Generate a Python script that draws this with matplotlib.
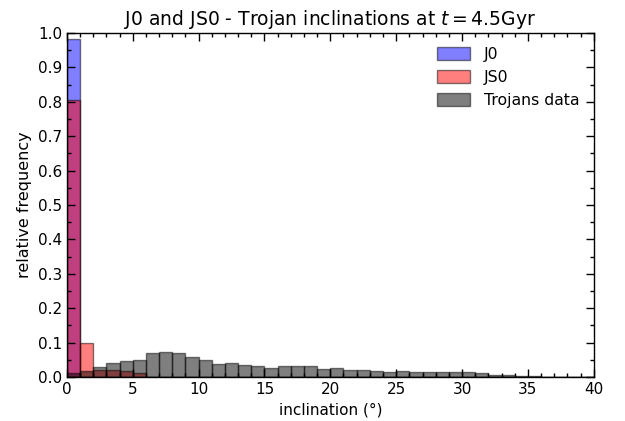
import numpy as np
import matplotlib
matplotlib.use("Agg")
import matplotlib.pyplot as plt
from matplotlib.ticker import MultipleLocator

bin_edges = list(range(0, 41))
j0 = [0.983] + [0.0] * 39
js0 = [0.805, 0.100, 0.020, 0.020, 0.017, 0.011] + [0.0] * 34
trojans = [0.012, 0.017, 0.030, 0.041, 0.047, 0.049, 0.070, 0.074, 0.069, 0.057,
           0.049, 0.039, 0.041, 0.036, 0.031, 0.027, 0.031, 0.031, 0.032, 0.023,
           0.026, 0.021, 0.019, 0.017, 0.015, 0.017, 0.016, 0.016, 0.016, 0.015,
           0.014, 0.011, 0.006, 0.005, 0.002, 0.002, 0.001, 0.001, 0.001, 0.0005]

centers = [(a + b) / 2 for a, b in zip(bin_edges[:-1], bin_edges[1:])]

fig = plt.figure(figsize=(6.25, 4.21), dpi=100)
ax = fig.add_axes([0.107, 0.1045, 0.843, 0.817])

ax.hist(centers, bins=bin_edges, weights=j0, color='b', alpha=0.5, edgecolor='k', linewidth=1.0, label='J0')
ax.hist(centers, bins=bin_edges, weights=js0, color='r', alpha=0.5, edgecolor='k', linewidth=1.0, label='JS0')
ax.hist(centers, bins=bin_edges, weights=trojans, color='k', alpha=0.5, edgecolor='k', linewidth=1.0, label='Trojans data')

ax.set_xlim(0, 40)
ax.set_ylim(0, 1.0)
ax.xaxis.set_major_locator(MultipleLocator(5))
ax.xaxis.set_minor_locator(MultipleLocator(1))
ax.yaxis.set_major_locator(MultipleLocator(0.1))
ax.yaxis.set_minor_locator(MultipleLocator(0.05))
ax.tick_params(which='both', direction='in', top=True, right=True, labelsize=11)
ax.tick_params(which='major', length=6, width=1)
ax.tick_params(which='minor', length=3, width=1)
for s in ax.spines.values():
    s.set_linewidth(1.0)

ax.set_xlabel('inclination (°)', fontsize=11)
ax.set_ylabel('relative frequency', fontsize=11.5)
ax.set_title('J0 and JS0 - Trojan inclinations at $t = 4.5$Gyr', fontsize=13.5)
ax.legend(loc='upper right', frameon=False, fontsize=11.3, handlelength=2.1,
          handleheight=0.85, handletextpad=0.9, labelspacing=0.5)

fig.savefig('out.png', dpi=100)
